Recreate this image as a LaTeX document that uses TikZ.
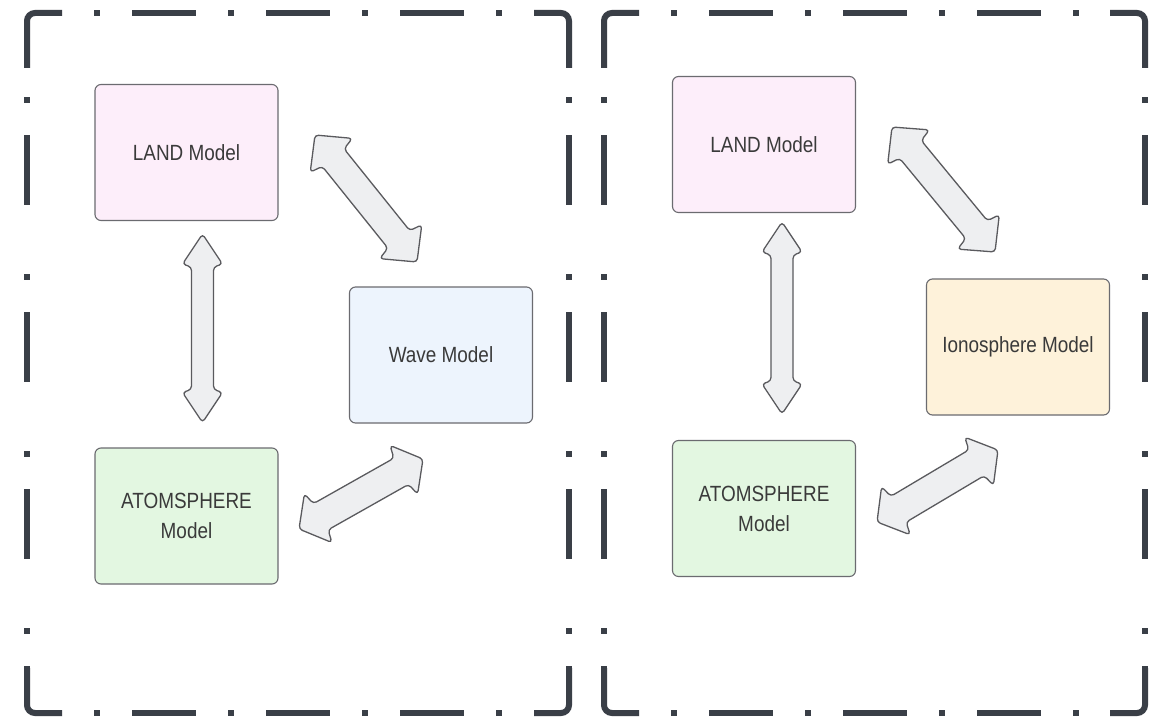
\documentclass[tikz,border=0pt]{standalone}
\usepackage{fontspec}
\setmainfont{Liberation Sans}[FakeStretch=0.86]
\usetikzlibrary{calc}

\definecolor{framecol}{HTML}{3A3F47}
\definecolor{boxline}{HTML}{6B6B70}
\definecolor{textcol}{HTML}{3A3A3A}
\definecolor{arrowline}{HTML}{5A5A5E}
\definecolor{arrowfill}{HTML}{EEEFF1}
\definecolor{landfill}{HTML}{FDEEFA}
\definecolor{wavefill}{HTML}{EDF4FD}
\definecolor{atmofill}{HTML}{E3F7E1}
\definecolor{ionofill}{HTML}{FEF2DA}

\tikzset{
  model/.style={draw=boxline, line width=1.1pt, rounded corners=6pt,
    minimum width=183pt, minimum height=136pt, inner sep=0pt,
    text=textcol, align=center, font=\fontsize{22}{30}\selectfont},
  blockarrow/.style={draw=arrowline, fill=arrowfill, line width=1.3pt,
    rounded corners=3.5pt, line join=round},
  frameline/.style={draw=framecol, line width=6pt},
  hpattern/.style={dash pattern=on 64pt off 32pt on 6pt off 32pt, dash phase=64pt},
  vpattern/.style={dash pattern=on 6pt off 32pt on 70pt off 69pt, dash phase=148pt}
}

% dash-dot panel outline with solid rounded corners
\newcommand\panelframe[4]{%
  \draw[frameline, rounded corners=8pt] (#1,#2+55) -- (#1,#2) -- (#1+35,#2);
  \draw[frameline, rounded corners=8pt] (#3-35,#2) -- (#3,#2) -- (#3,#2+55);
  \draw[frameline, rounded corners=8pt] (#1,#4-45) -- (#1,#4) -- (#1+35,#4);
  \draw[frameline, rounded corners=8pt] (#3-35,#4) -- (#3,#4) -- (#3,#4-45);
  \draw[frameline, hpattern] (#1+35,#2) -- (#3-35,#2);
  \draw[frameline, hpattern] (#1+35,#4) -- (#3-35,#4);
  \draw[frameline, vpattern] (#1,#2+55) -- (#1,#4-45);
  \draw[frameline, vpattern] (#3,#2+55) -- (#3,#4-45);
}

% double-headed block arrow between two named coordinates
% #3 head half-width, #4 head length, #5 shaft half-width, #6 notch depth
\newcommand\blockarrow[6]{%
  \draw[blockarrow] (#1)
    -- ($(#1)!#4!(#2)!#3!90:(#2)$)
    -- ($(#1)!#6!(#2)!#5!90:(#2)$)
    -- ($(#2)!#6!(#1)!#5!-90:(#1)$)
    -- ($(#2)!#4!(#1)!#3!-90:(#1)$)
    -- (#2)
    -- ($(#2)!#4!(#1)!#3!90:(#1)$)
    -- ($(#2)!#6!(#1)!#5!90:(#1)$)
    -- ($(#1)!#6!(#2)!#5!-90:(#2)$)
    -- ($(#1)!#4!(#2)!#3!-90:(#2)$)
    -- cycle;
}

\begin{document}
\begin{tikzpicture}[x=1pt, y=-1pt]
  \useasboundingbox[fill=white] (0,0) rectangle (1162,717);

  % panel outlines
  \panelframe{27}{13}{569}{713}
  \panelframe{604}{13}{1145}{713}

  % left panel: models
  \node[model, fill=landfill] (landA) at (186.5,152.5) {LAND Model};
  \node[model, fill=wavefill] (wave)  at (441,355)     {Wave Model};
  \node[model, fill=atmofill] (atmoA) at (186.5,516)   {ATOMSPHERE\\Model};

  % right panel: models
  \node[model, fill=landfill] (landB) at (764,144.5)   {LAND Model};
  \node[model, fill=ionofill] (iono)  at (1018,347)    {Ionosphere Model};
  \node[model, fill=atmofill] (atmoB) at (764,508.5)   {ATOMSPHERE\\Model};

  % arrow end points
  \coordinate (landA-s)  at ($(landA.south)+(16,13)$);
  \coordinate (atmoA-n)  at ($(atmoA.north)+(16,-25)$);
  \coordinate (landA-e)  at (315,135);
  \coordinate (wave-nw)  at (417,262);
  \coordinate (atmoA-e)  at (299,529);
  \coordinate (wave-sw)  at (423,459);

  \coordinate (landB-s)  at ($(landB.south)+(18,9)$);
  \coordinate (atmoB-n)  at ($(atmoB.north)+(18,-26)$);
  \coordinate (landB-e)  at (892,127);
  \coordinate (iono-nw)  at (995,252);
  \coordinate (atmoB-e)  at (877,522);
  \coordinate (iono-sw)  at (998,450);

  % couplings
  \blockarrow{landA-s}{atmoA-n}{20pt}{30pt}{11pt}{33pt}
  \blockarrow{landA-e}{wave-nw}{27pt}{26pt}{14pt}{29pt}
  \blockarrow{atmoA-e}{wave-sw}{28pt}{22pt}{15pt}{25pt}

  \blockarrow{landB-s}{atmoB-n}{20pt}{30pt}{11pt}{33pt}
  \blockarrow{landB-e}{iono-nw}{27pt}{26pt}{14pt}{29pt}
  \blockarrow{atmoB-e}{iono-sw}{28pt}{22pt}{15pt}{25pt}
\end{tikzpicture}
\end{document}
